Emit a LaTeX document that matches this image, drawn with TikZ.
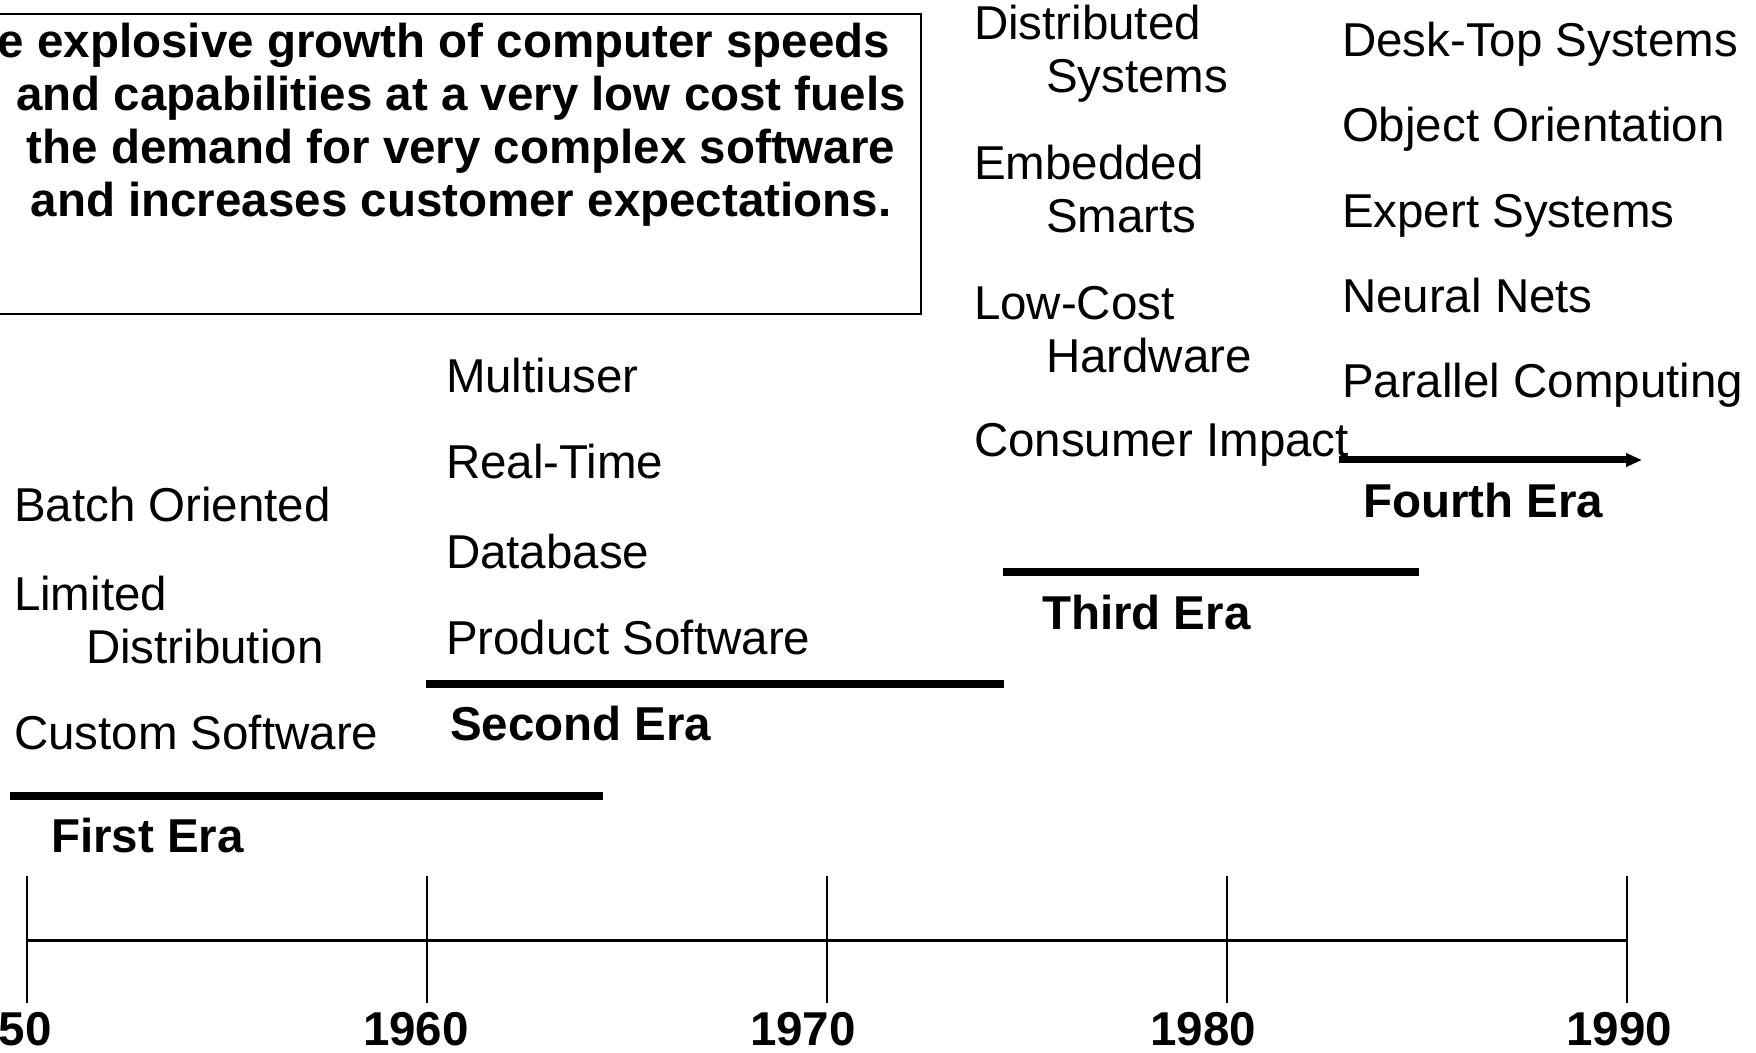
\documentclass[tikz,border=0pt]{standalone}
\usepackage{fontspec}
\setmainfont{Liberation Sans}
\usetikzlibrary{arrows.meta}
\tikzset{
  item/.style={anchor=base west, inner sep=0pt, outer sep=0pt, align=left,
    font=\fontsize{23.75pt}{26.5pt}\selectfont},
  era/.style={anchor=base west, inner sep=0pt, outer sep=0pt,
    font=\fontsize{23.75pt}{26.5pt}\selectfont\bfseries},
  year/.style={anchor=base, inner sep=0pt, outer sep=0pt,
    font=\fontsize{23.75pt}{26.5pt}\selectfont\bfseries},
  erabar/.style={line width=4pt},
  tick/.style={line width=1pt},
}
\begin{document}
\begin{tikzpicture}[x=0.5pt,y=-0.5pt]
\useasboundingbox (0,0) rectangle (1756,1053);
% message box (base anchor = baseline of last line)
\draw[line width=1pt] (-20,14) rectangle (921,314);
\node[anchor=base, inner sep=0pt, align=center,
      font=\fontsize{23.75pt}{26.5pt}\selectfont\bfseries] (msg) at (461,217)
  {The explosive growth of computer speeds\hspace*{46pt}\\
   and capabilities at a very low cost fuels\\
   the demand for very complex software\\
   and increases customer expectations.};
% first era
\node[item] (batch) at (14,521) {Batch Oriented};
\node[item] (limited) at (14,663) {Limited\\\hspace*{36pt}Distribution};
\node[item] (custom) at (14,749) {Custom Software};
\coordinate (b1s) at (10,796);
\coordinate (b1e) at (603,796);
\draw[erabar] (b1s) -- (b1e);
\node[era] (first) at (51,852) {First Era};
% second era
\node[item] (multi) at (446,393) {Multiuser};
\node[item] (rt) at (446,479) {Real-Time};
\node[item] (db) at (446,568) {Database};
\node[item] (prod) at (446,654) {Product Software};
\coordinate (b2s) at (426,684);
\coordinate (b2e) at (1004,684);
\draw[erabar] (b2s) -- (b2e);
\node[era] (second) at (450,740) {Second Era};
% third era
\node[item] (dist) at (974,93) {Distributed\\\hspace*{36pt}Systems};
\node[item] (emb) at (974,233) {Embedded\\\hspace*{36pt}Smarts};
\node[item] (low) at (974,373) {Low-Cost\\\hspace*{36pt}Hardware};
\node[item] (cons) at (974,457) {Consumer Impact};
\coordinate (b3s) at (1003,572);
\coordinate (b3e) at (1419,572);
\draw[erabar] (b3s) -- (b3e);
\node[era] (third) at (1042,629) {Third Era};
% fourth era
\node[item] (desk) at (1342,57) {Desk-Top Systems};
\node[item] (obj) at (1342,142) {Object Orientation};
\node[item] (exp) at (1342,228) {Expert Systems};
\node[item] (nn) at (1342,313) {Neural Nets};
\node[item] (par) at (1342,398) {Parallel Computing};
\coordinate (b4s) at (1339,460);
\coordinate (b4e) at (1642,460);
\draw[line width=3.5pt, -{Triangle[length=8pt,width=6.5pt]}] (b4s) -- (b4e);
\node[era] (fourth) at (1363,517) {Fourth Era};
% time axis
\coordinate (t50) at (27,940);
\coordinate (t60) at (427,940);
\coordinate (t70) at (827,940);
\coordinate (t80) at (1227,940);
\coordinate (t90) at (1627,940);
\draw[line width=1.5pt] (t50) -- (t90);
\foreach \t in {t50,t60,t70,t80,t90}
  \draw[tick] ([yshift=32pt]\t) -- ([yshift=-31.5pt]\t);
\node[year] (y50) at (-1,1045) {1950};
\node[year] (y60) at (416,1045) {1960};
\node[year] (y70) at (803,1045) {1970};
\node[year] (y80) at (1203,1045) {1980};
\node[year] (y90) at (1619,1045) {1990};
\end{tikzpicture}
\end{document}
